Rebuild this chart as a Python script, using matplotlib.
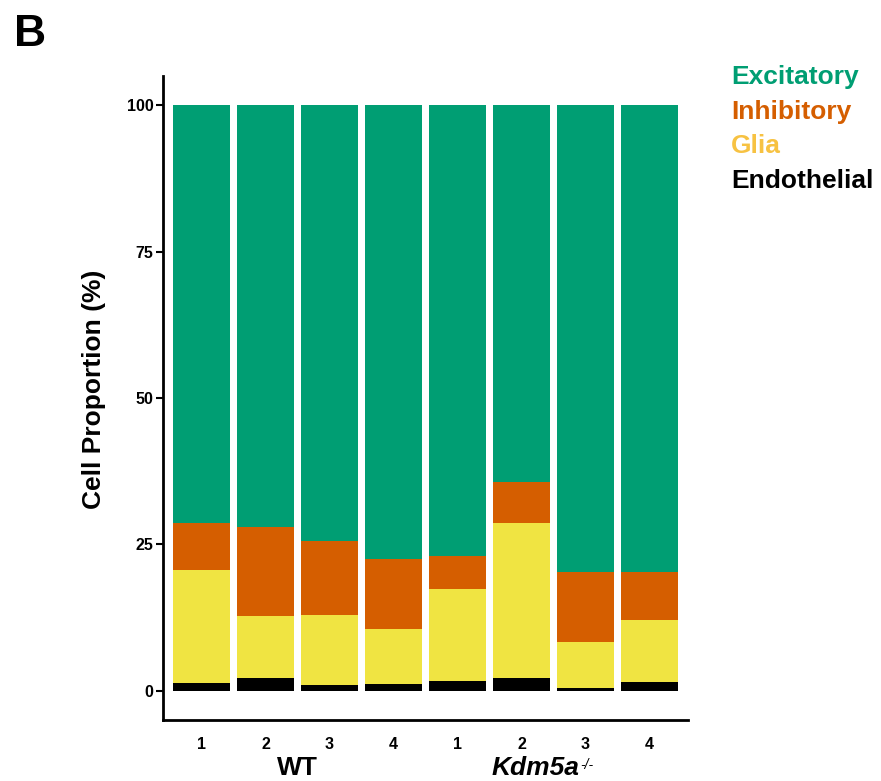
import matplotlib
matplotlib.use("Agg")
import matplotlib.pyplot as plt
import matplotlib.transforms as mtransforms
import numpy as np

plt.rcParams['font.family'] = ['Liberation Sans', 'DejaVu Sans']

samples = ["1", "2", "3", "4", "1", "2", "3", "4"]
groups = ["WT", "Kdm5a"]
group_sup = ["", "-/-"]
group_centers = [2.5, 6.5]
cell_types = ["Endothelial", "Glia", "Inhibitory", "Excitatory"]
endothelial = [1.3, 2.2, 0.95, 1.1, 1.6, 2.1, 0.45, 1.45]
glia = [19.3, 10.5, 12.0, 9.5, 15.7, 26.6, 7.9, 10.55]
inhibitory = [8.1, 15.3, 12.7, 11.9, 5.7, 6.9, 11.9, 8.2]
excitatory = [100 - e - g - i for e, g, i in zip(endothelial, glia, inhibitory)]

bar_colors = {"Excitatory": "#009E73", "Inhibitory": "#D55E00",
              "Glia": "#F0E442", "Endothelial": "#000000"}
legend_colors = {"Excitatory": "#009E73", "Inhibitory": "#D55E00",
                 "Glia": "#F7C242", "Endothelial": "#000000"}

fig = plt.figure(figsize=(8.81, 7.81), dpi=100)
ax = fig.add_axes([163/881, 1-720/781, (688-163)/881, (720-76)/781])

x = np.arange(1, len(samples) + 1)
bottom = np.zeros(len(samples))
for name, vals in zip(cell_types, [endothelial, glia, inhibitory, excitatory]):
    ax.bar(x, vals, bottom=bottom, width=0.9, color=bar_colors[name], linewidth=0)
    bottom += np.array(vals)

ax.set_xlim(0.4, 8.6)
ax.set_ylim(-5, 105)
ax.set_yticks([0, 25, 50, 75, 100])
ax.set_yticklabels(["0", "25", "50", "75", "100"], fontsize=11.5, fontweight='bold')
ax.set_xticks(x)
ax.set_xticklabels(samples, fontsize=11.5, fontweight='bold')
ax.tick_params(axis='x', length=0, pad=12)
ax.tick_params(axis='y', length=5, width=1.5, pad=2)
for s in ['top', 'right']:
    ax.spines[s].set_visible(False)
for s in ['left', 'bottom']:
    ax.spines[s].set_linewidth(2)

fig.text(94/881, 1 - 389/781, "Cell Proportion (%)", rotation=90, fontsize=19,
         fontweight='bold', ha='center', va='center')

# group labels
trans = mtransforms.blended_transform_factory(ax.transData, fig.transFigure)
gy = 1 - 768/781
ax.text(group_centers[0], gy, groups[0], transform=trans, ha='center', va='center',
        fontsize=19, fontweight='bold')
ax.annotate(groups[1], xy=(group_centers[1], gy), xycoords=trans,
            xytext=(26, 0), textcoords='offset pixels', ha='right', va='center',
            fontsize=19, fontweight='bold', style='italic')
ax.annotate(group_sup[1], xy=(group_centers[1], gy), xycoords=trans,
            xytext=(27, 10), textcoords='offset pixels', ha='left', va='top',
            fontsize=10, style='italic')

# legend as colored text
leg_order = ["Excitatory", "Inhibitory", "Glia", "Endothelial"]
for k, name in enumerate(leg_order):
    fig.text(731/881, 1 - (77 + 34.7*k)/781, name, color=legend_colors[name],
             fontsize=19, fontweight='bold', ha='left', va='center')

fig.text(14/881, 1 - 34/781, "B", fontsize=32, fontweight='bold', ha='left', va='center')

fig.savefig("out.png", dpi=100)
